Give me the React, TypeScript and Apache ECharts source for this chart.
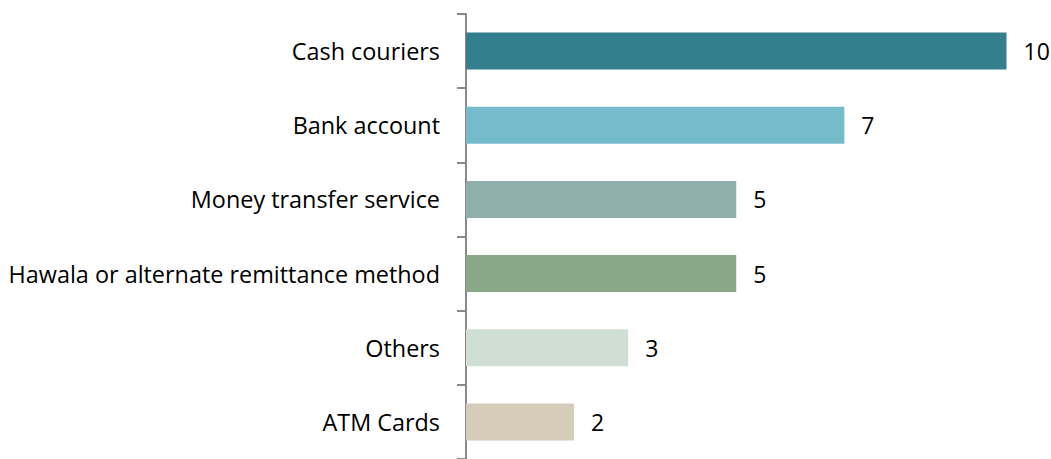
import React, { useEffect, useRef } from "react";
import * as echarts from "echarts";

const categories = [
  "Cash couriers",
  "Bank account",
  "Money transfer service",
  "Hawala or alternate remittance method",
  "Others",
  "ATM Cards",
];
const values = [10, 7, 5, 5, 3, 2];
const barColors = ["#337F8E", "#75BBCC", "#8EAFAC", "#88A886", "#D0DFD3", "#D6CCBA"];

export default function App() {
  const ref = useRef<HTMLDivElement>(null);
  useEffect(() => {
    if (!ref.current) return;
    const chart = echarts.init(ref.current, undefined, { renderer: "svg" });
    chart.setOption({
      animation: false,
      grid: { left: 466, right: 44.5, top: 14, height: 450 },
      xAxis: {
        type: "value",
        min: 0,
        max: 10,
        show: false,
      },
      yAxis: {
        type: "category",
        data: categories,
        inverse: true,
        axisLine: { show: true, lineStyle: { color: "#898989", width: 2 } },
        axisTick: { show: true, length: 9, lineStyle: { color: "#898989", width: 2 } },
        axisLabel: {
          margin: 26,
          color: "#000",
          fontFamily: "Open Sans",
          fontSize: 23.4,
        },
        splitLine: { show: false },
      },
      series: [
        {
          type: "bar",
          barWidth: 37,
          data: values.map((v, i) => ({ value: v, itemStyle: { color: barColors[i] } })),
          label: {
            show: true,
            position: "right",
            distance: 17,
            color: "#000",
            fontFamily: "Open Sans",
            fontSize: 23,
          },
        },
      ],
    });
    return () => chart.dispose();
  }, []);
  return (
    <div
      ref={ref}
      style={{ position: "fixed", left: 0, top: 0, width: 1051, height: 459, background: "#fff" }}
    />
  );
}
